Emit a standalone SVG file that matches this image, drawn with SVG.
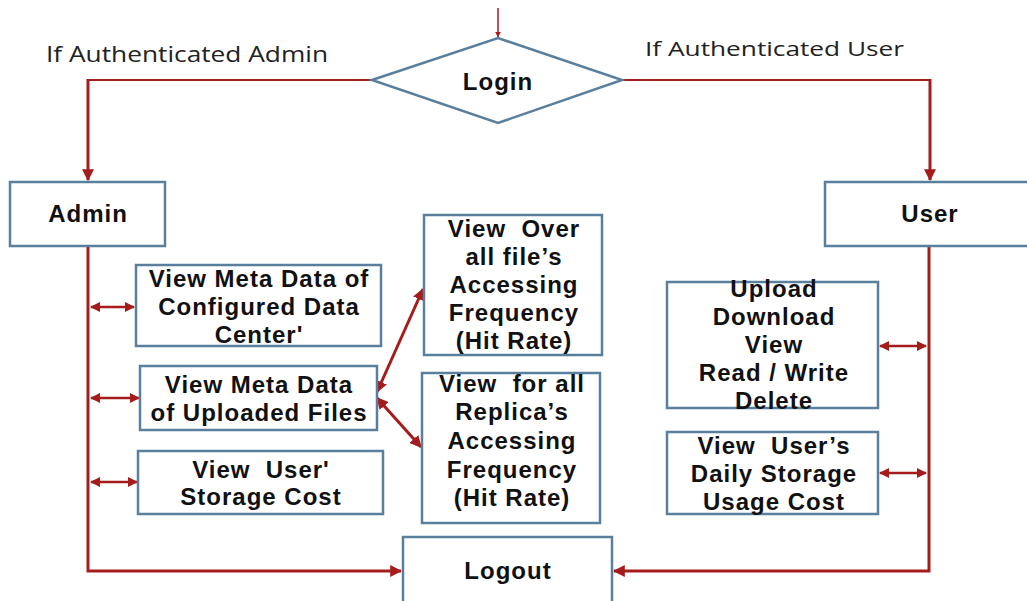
<svg xmlns="http://www.w3.org/2000/svg" width="1027" height="601" viewBox="0 0 1027 601">
<defs>
<style>
.box{fill:#fff;stroke:#5a7f9c;stroke-width:2.5}
.lbl{font-family:"Liberation Sans",Arial,sans-serif;font-weight:bold;font-size:24px;letter-spacing:1px;fill:#111;text-anchor:middle}
.cond{font-family:"Open Sans","Liberation Sans",sans-serif;fill:#222}
.ln{fill:none;stroke:#a51c1c;stroke-width:3}
.thin{fill:none;stroke:#a51c1c;stroke-width:2.5}
.hz{fill:none;stroke:#a51c1c;stroke-width:2}
</style>
<marker id="ah" viewBox="0 0 10 10" refX="9" refY="5" markerWidth="4" markerHeight="4" orient="auto-start-reverse" markerUnits="strokeWidth">
<path d="M0,0 L10,5 L0,10 z" fill="#a51c1c"/>
</marker>
<marker id="ahs" viewBox="0 0 10 10" refX="9" refY="5" markerWidth="4" markerHeight="4" orient="auto-start-reverse" markerUnits="strokeWidth">
<path d="M0,0 L10,5 L0,10 z" fill="#a51c1c"/>
</marker>
</defs>
<rect width="1027" height="601" fill="#fff"/>
<text class="cond" x="46" y="62" font-size="21" textLength="282" lengthAdjust="spacingAndGlyphs">If Authenticated Admin</text>
<text class="cond" x="645" y="56" font-size="20" textLength="259" lengthAdjust="spacingAndGlyphs">If Authenticated User</text>
<g id="connectors">
<line x1="498" y1="8" x2="498" y2="37" stroke="#a51c1c" stroke-width="1.5" marker-end="url(#ahs)"/>
<path class="hz" d="M372,80 H88"/>
<path class="ln" d="M88,79 V180" marker-end="url(#ah)"/>
<path class="hz" d="M622,80 H930"/>
<path class="ln" d="M930,79 V180" marker-end="url(#ah)"/>
<path class="ln" d="M88,246 V571 H401" marker-end="url(#ah)"/>
<path class="ln" d="M929,246 V571 H614" marker-end="url(#ah)"/>
<line class="thin" x1="91" y1="307" x2="134" y2="307" marker-start="url(#ah)" marker-end="url(#ah)"/>
<line class="thin" x1="91" y1="398" x2="139" y2="398" marker-start="url(#ah)" marker-end="url(#ah)"/>
<line class="thin" x1="91" y1="482" x2="137" y2="482" marker-start="url(#ah)" marker-end="url(#ah)"/>
<line class="ln" x1="377" y1="392" x2="423" y2="289" marker-start="url(#ah)" marker-end="url(#ah)"/>
<line class="ln" x1="377" y1="398" x2="421" y2="447" marker-start="url(#ah)" marker-end="url(#ah)"/>
<line class="thin" x1="880" y1="346" x2="926" y2="346" marker-start="url(#ah)" marker-end="url(#ah)"/>
<line class="thin" x1="880" y1="473" x2="926" y2="473" marker-start="url(#ah)" marker-end="url(#ah)"/>
</g>
<g id="login">
<polygon points="372,80 498,38 622,80 498,123" fill="#fff" stroke="#5a7f9c" stroke-width="2.5"/>
<text class="lbl" x="498" y="90">Login</text>
</g>
<g id="admin">
<rect class="box" x="10" y="182" width="155" height="64"/>
<text class="lbl" x="88" y="222">Admin</text>
</g>
<g id="user">
<rect class="box" x="825" y="182" width="210" height="64"/>
<text class="lbl" x="930" y="222">User</text>
</g>
<g id="meta-datacenter">
<rect class="box" x="136" y="265" width="245" height="81"/>
<text class="lbl" x="259" y="287">View Meta Data of</text>
<text class="lbl" x="259" y="315">Configured Data</text>
<text class="lbl" x="259" y="343">Center'</text>
</g>
<g id="meta-files">
<rect class="box" x="140" y="366" width="237" height="64"/>
<text class="lbl" x="259" y="393">View Meta Data</text>
<text class="lbl" x="259" y="421">of Uploaded Files</text>
</g>
<g id="storage-cost">
<rect class="box" x="138" y="451" width="245" height="63"/>
<text class="lbl" x="261" y="478" xml:space="preserve">View  User'</text>
<text class="lbl" x="261" y="505">Storage Cost</text>
</g>
<g id="file-hit">
<rect class="box" x="424" y="215" width="178" height="140"/>
<text class="lbl" x="514" y="237" xml:space="preserve">View  Over</text>
<text class="lbl" x="514" y="265">all file’s</text>
<text class="lbl" x="514" y="293">Accessing</text>
<text class="lbl" x="514" y="321">Frequency</text>
<text class="lbl" x="514" y="349">(Hit Rate)</text>
</g>
<g id="replica-hit">
<rect class="box" x="422" y="373" width="178" height="150"/>
<text class="lbl" x="512" y="392" xml:space="preserve">View  for all</text>
<text class="lbl" x="512" y="420">Replica’s</text>
<text class="lbl" x="512" y="449">Accessing</text>
<text class="lbl" x="512" y="478">Frequency</text>
<text class="lbl" x="512" y="506">(Hit Rate)</text>
</g>
<g id="logout">
<rect class="box" x="403" y="537" width="209" height="70"/>
<text class="lbl" x="508" y="579">Logout</text>
</g>
<g id="file-ops">
<rect class="box" x="667" y="282" width="211" height="126"/>
<text class="lbl" x="774" y="297">Upload</text>
<text class="lbl" x="774" y="325">Download</text>
<text class="lbl" x="774" y="353">View</text>
<text class="lbl" x="774" y="381">Read / Write</text>
<text class="lbl" x="774" y="409">Delete</text>
</g>
<g id="daily-cost">
<rect class="box" x="667" y="432" width="211" height="82"/>
<text class="lbl" x="774" y="454" xml:space="preserve">View  User’s</text>
<text class="lbl" x="774" y="482">Daily Storage</text>
<text class="lbl" x="774" y="510">Usage Cost</text>
</g>
</svg>
